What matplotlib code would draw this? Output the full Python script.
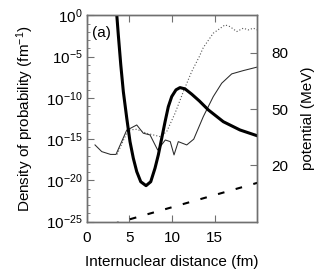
import math
import matplotlib
matplotlib.use("Agg")
import matplotlib.pyplot as plt
from matplotlib.ticker import FixedLocator, FuncFormatter, NullFormatter

plt.rcParams['font.family'] = ['Liberation Sans', 'DejaVu Sans']
plt.rcParams['mathtext.fontset'] = 'custom'
plt.rcParams['mathtext.rm'] = 'Liberation Sans'
plt.rcParams['mathtext.it'] = 'Liberation Sans:italic'
plt.rcParams['mathtext.bf'] = 'Liberation Sans:bold'

# ---- data ----
# thin solid density (log10 of fm^-1)
solid_x = [0.98, 1.77, 2.8, 3.44, 4.70, 5.10, 5.87, 6.64, 7.43, 8.32, 9.22, 9.80, 10.24,
           10.74, 11.73, 12.55, 13.67, 14.84, 15.83, 17.00, 18.36, 19.93]
solid_log = [-15.70, -16.51, -16.85, -16.85, -13.90, -13.70, -13.28, -14.28, -14.49, -16.31,
             -15.10, -15.30, -16.91, -15.30, -15.70, -15.00, -12.27, -9.84, -8.22, -7.09,
             -6.69, -6.28]
# dotted density (log10 of fm^-1)
dot_x = [3.56, 4.85, 5.87, 7.01, 8.60, 9.38, 10.36, 11.33, 12.31, 13.20, 13.67, 14.84,
         16.22, 16.80, 17.59, 18.36, 18.95, 19.53, 20.0]
dot_log = [-16.85, -13.90, -13.80, -14.28, -14.69, -14.09, -11.86, -9.24, -6.81, -5.00,
           -3.90, -2.16, -1.15, -1.36, -1.96, -1.55, -1.76, -1.55, -1.76]
# thick potential (MeV)
pot_x = [3.40, 3.53, 3.71, 4.00, 4.30, 4.70, 5.08, 5.47, 5.87, 6.34, 6.96, 7.51, 8.01,
         8.40, 8.80, 9.19, 9.57, 9.97, 10.47, 10.94, 11.53, 12.31, 13.20, 14.26, 16.02,
         17.97, 19.93]
pot_v = [110.0, 100.3, 89.6, 73.6, 59.3, 45.2, 32.7, 23.8, 16.7, 11.3, 9.2, 11.3, 18.5,
         25.6, 34.5, 43.3, 51.3, 56.7, 60.3, 61.5, 60.8, 58.0, 54.4, 49.6, 43.3, 38.9, 35.9]
# dashed line (MeV)
dash_x = [3.0, 8.0, 12.0, 16.0, 20.0]
dash_v = [-11.4, -4.9, 0.3, 5.5, 10.7]

left_ticks = [-25, -20, -15, -10, -5, 0]
right_ticks = [20, 50, 80]
x_ticks = [0, 5, 10, 15]

spine_col = '#707070'
FS = 11

fig = plt.figure(figsize=(3.32, 2.70), dpi=100)
ax = fig.add_axes([0.261, 0.179, 0.514, 0.764])
ax2 = ax.twinx()

ax.plot(solid_x, [10.0 ** v for v in solid_log], color='#2a2a2a', lw=0.75)
ax.plot(dot_x, [10.0 ** v for v in dot_log], color='#555555', lw=0.8,
        linestyle=(0, (1, 1.8)))

ax2.plot(pot_x, pot_v, color='black', lw=2.2, solid_joinstyle='round')
ax2.plot(dash_x, dash_v, color='black', lw=1.5, linestyle=(0, (3.2, 5.6)))

ax.set_yscale('log')
ax.set_xlim(0, 20)
ax.set_ylim(1e-25, 1e0)
ax2.set_ylim(-10, 100)

ax.yaxis.set_major_locator(FixedLocator([10.0 ** t for t in left_ticks]))
ax.yaxis.set_minor_locator(FixedLocator([10.0 ** t for t in range(-25, 1)]))
ax.yaxis.set_minor_formatter(NullFormatter())
ax.yaxis.set_major_formatter(FuncFormatter(
    lambda v, p: r'$\mathregular{10^{%d}}$' % round(math.log10(v))))
ax.set_xticks(x_ticks)
ax2.set_yticks(right_ticks)

for a in (ax, ax2):
    for s in a.spines.values():
        s.set_color(spine_col)
        s.set_linewidth(1.0)
ax.tick_params(axis='both', which='major', direction='in', length=5, width=0.8,
               color=spine_col, labelsize=FS, top=True, pad=3)
ax.tick_params(axis='y', which='minor', direction='in', length=2.5, width=0.6,
               color=spine_col)
ax.tick_params(axis='x', which='major', pad=7)
ax2.tick_params(axis='y', which='major', direction='in', length=5, width=0.8,
                color=spine_col, labelsize=FS, pad=10)

ax.set_xlabel('Internuclear distance (fm)', fontsize=FS, labelpad=7)
ax.set_ylabel(r'Density of probability (fm$^{-1}$)', fontsize=FS, labelpad=7)
ax2.set_ylabel('potential (MeV)', fontsize=FS, labelpad=9)

ax.text(0.03, 0.915, '(a)', transform=ax.transAxes, fontsize=FS, va='center', ha='left')

fig.savefig('out.png', dpi=100)
